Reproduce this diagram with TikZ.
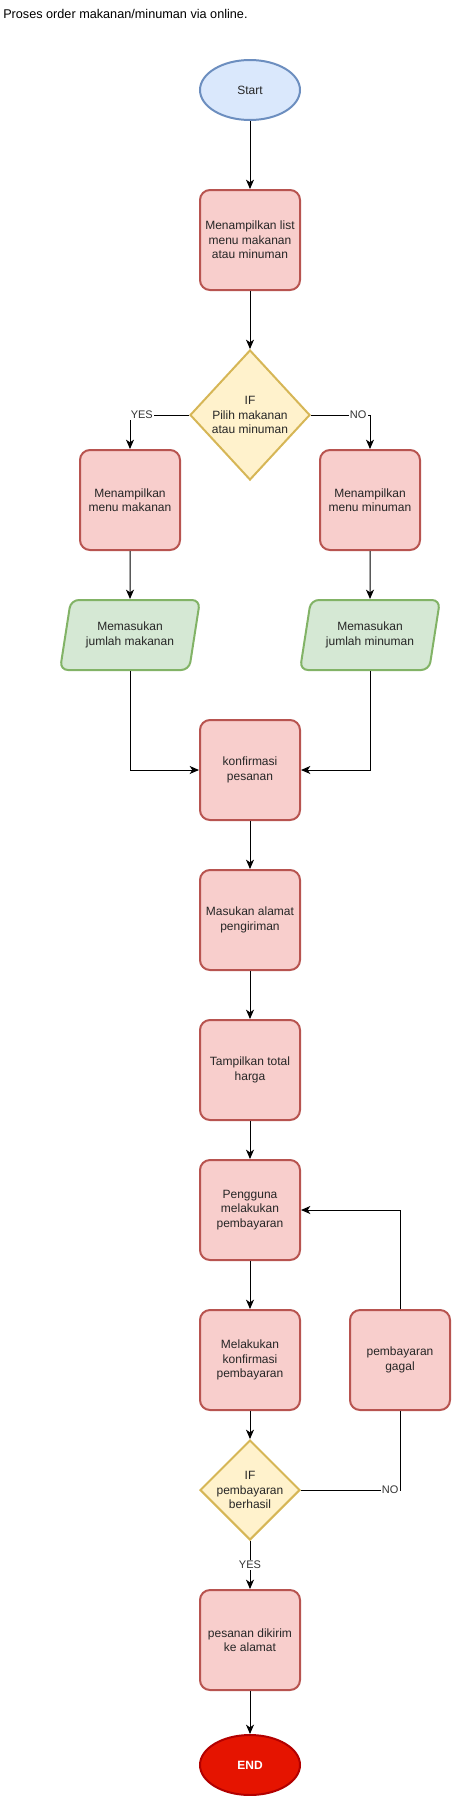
\documentclass[tikz,border=0pt]{standalone}
\usepackage{fontspec}
\setmainfont{Liberation Sans}
\usepackage{xcolor}
\usetikzlibrary{arrows.meta,shapes.geometric}

\definecolor{biruisi}{HTML}{DAE8FC}
\definecolor{birugaris}{HTML}{6C8EBF}
\definecolor{merahisi}{HTML}{F8CECC}
\definecolor{merahgaris}{HTML}{B85450}
\definecolor{kuningisi}{HTML}{FFF2CC}
\definecolor{kuninggaris}{HTML}{D6B656}
\definecolor{hijauisi}{HTML}{D5E8D4}
\definecolor{hijaugaris}{HTML}{82B366}
\definecolor{endisi}{HTML}{E51400}
\definecolor{endgaris}{HTML}{B20000}

\begin{document}
\begin{tikzpicture}[x=0.75pt, y=-0.75pt,
  >={Stealth[length=7pt,width=6pt,inset=2pt]},
  teks/.style={font=\fontsize{9}{10.8}\selectfont, text=black!85, align=center},
  proses/.style={teks, rectangle, rounded corners=7.5pt, draw=merahgaris, fill=merahisi,
    line width=1.5pt, minimum width=75pt, minimum height=75pt, inner sep=0pt},
  terminal/.style={teks, ellipse, line width=1.5pt, minimum width=75pt,
    minimum height=45pt, inner sep=0pt},
  keputusan/.style={diamond, draw=kuninggaris, fill=kuningisi, line width=1.5pt, inner sep=0pt},
  masukan/.style={teks, trapezium, trapezium left angle=67, trapezium right angle=113,
    trapezium stretches body, draw=hijaugaris, fill=hijauisi, line width=1.5pt,
    minimum width=105pt, minimum height=52.5pt, inner sep=0pt, rounded corners=6pt},
  panah/.style={->, line width=0.75pt},
  ket/.style={font=\fontsize{8.25}{9.9}\selectfont, text=black!80, fill=white, inner sep=1pt}]
  \useasboundingbox (0,0) rectangle (452,1796);

  % Judul
  \node[anchor=base west, inner sep=0pt, font=\fontsize{9.5}{11}\selectfont] (judul) at (3,18.5)
    {Proses order makanan/minuman via online.};

  % Alur utama
  \node[terminal, draw=birugaris, fill=biruisi] (mulai) at (250,90) {Start};
  \node[proses] (listmenu) at (250,240) {Menampilkan list\\menu makanan\\atau minuman};
  \node[keputusan, minimum width=90pt, minimum height=97.5pt] (pilih) at (250,415) {};
  \node[teks] (pilihteks) at (pilih) {IF\\Pilih makanan\\atau minuman};

  % Cabang makanan / minuman
  \node[proses] (menumkn) at (130,500) {Menampilkan\\menu makanan};
  \node[proses] (menumnm) at (370,500) {Menampilkan\\menu minuman};
  \node[masukan] (jmlmkn) at (130,635) {Memasukan\\jumlah makanan};
  \node[masukan] (jmlmnm) at (370,635) {Memasukan\\jumlah minuman};

  \node[proses] (konfirm) at (250,770) {konfirmasi\\pesanan};
  \node[proses] (alamat) at (250,920) {Masukan alamat\\pengiriman};
  \node[proses] (total) at (250,1070) {Tampilkan total\\harga};
  \node[proses] (bayar) at (250,1210) {Pengguna\\melakukan\\pembayaran};
  \node[proses] (konfbayar) at (250,1360) {Melakukan\\konfirmasi\\pembayaran};
  \node[proses] (gagal) at (400,1360) {pembayaran\\gagal};
  \node[keputusan, minimum width=75pt, minimum height=75pt] (cekbayar) at (250,1490) {};
  \node[teks] (cekteks) at (cekbayar) {IF\\pembayaran\\berhasil};
  \node[proses] (kirim) at (250,1640) {pesanan dikirim\\ke alamat};
  \node[terminal, draw=endgaris, fill=endisi, text=white, font=\bfseries\fontsize{9}{10.8}\selectfont]
    (selesai) at (250,1765) {END};

  % Panah
  \draw[panah] (mulai) -- (listmenu);
  \draw[panah] (listmenu) -- (pilih);
  \draw[panah] (pilih.west) -| node[ket, pos=0.4] {YES} (menumkn.north);
  \draw[panah] (pilih.east) -| node[ket, pos=0.4] {NO} (menumnm.north);
  \draw[panah] (menumkn) -- (jmlmkn);
  \draw[panah] (menumnm) -- (jmlmnm);
  \draw[panah] (jmlmkn.south) |- (konfirm.west);
  \draw[panah] (jmlmnm.south) |- (konfirm.east);
  \draw[panah] (konfirm) -- (alamat);
  \draw[panah] (alamat) -- (total);
  \draw[panah] (total) -- (bayar);
  \draw[panah] (bayar) -- (konfbayar);
  \draw[panah] (konfbayar) -- (cekbayar);
  \draw[line width=0.75pt] (cekbayar.east) -| node[ket, pos=0.45] {NO} (gagal.south);
  \draw[panah] (gagal.north) |- (bayar.east);
  \draw[panah] (cekbayar) -- node[ket] {YES} (kirim);
  \draw[panah] (kirim) -- (selesai);
\end{tikzpicture}
\end{document}
